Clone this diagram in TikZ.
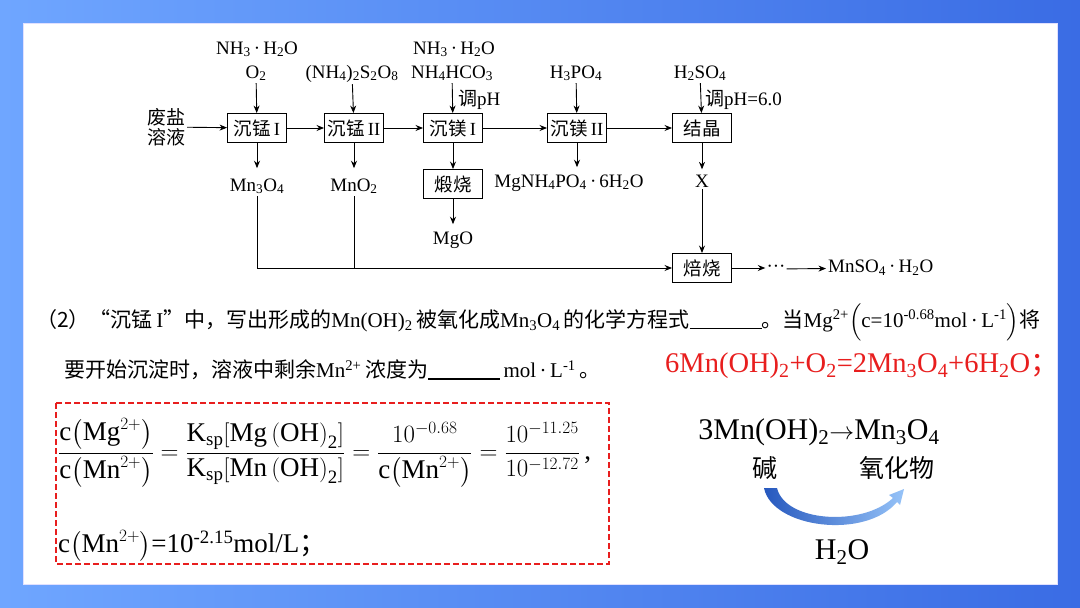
\documentclass[tikz,border=0pt]{standalone}
\usepackage{amsmath}
\usepackage{fontspec}
\setmainfont{Liberation Serif}
\newfontfamily\cjk{Noto Sans CJK SC}
\usetikzlibrary{arrows.meta,positioning}
\definecolor{bgleft}{RGB}{111,166,255}
\definecolor{bgright}{RGB}{58,108,228}
\definecolor{ansred}{RGB}{232,30,30}
\definecolor{arcdark}{RGB}{38,88,190}
\definecolor{arclight}{RGB}{150,195,248}

\begin{document}
\begin{tikzpicture}[x=1pt,y=-1pt,>={Stealth[length=7.5pt,width=6pt]},
  box/.style={draw,line width=0.9pt,minimum width=59pt,minimum height=29pt,inner sep=1pt,font=\fontsize{18.5}{20}\selectfont},
  lbl/.style={inner sep=2pt,font=\fontsize{19}{21}\selectfont},
  flow/.style={->,line width=0.9pt},
  para/.style={anchor=west,inner sep=0pt,font=\fontsize{21}{24}\selectfont},
  big/.style={inner sep=0pt,font=\fontsize{30}{32}\selectfont}]
\useasboundingbox (0,0) rectangle (1080,608);
\shade[left color=bgleft,right color=bgright] (0,0) rectangle (1080,608);
\fill[white] (23,23) rectangle (1057,584);
\draw[blue!12,line width=1pt] (23,23) rectangle (1057,584);

% flow chart
\node[lbl,align=center] (feed) at (166,127) {{\cjk 废盐}\\[-1pt]{\cjk 溶液}};
\node[box] (mn1) at (257,128) {{\cjk 沉锰}\,I};
\node[box] (mn2) at (354,128) {{\cjk 沉锰}\,II};
\node[box] (mg1) at (453,128) {{\cjk 沉镁}\,I};
\node[box] (mg2) at (577,128) {{\cjk 沉镁}\,II};
\node[box] (cry) at (702,128) {{\cjk 结晶}};
\node[box] (calc) at (453,184) {{\cjk 煅烧}};
\node[box] (roast) at (702,268) {{\cjk 焙烧}};

% reagents
\node[lbl,anchor=base] (in1a) at (257,54) {NH\textsubscript{3}\,·\,H\textsubscript{2}O};
\node[lbl,anchor=base] (in1b) at (256,78) {O\textsubscript{2}};
\node[lbl,anchor=base] (in2) at (352,78) {(NH\textsubscript{4})\textsubscript{2}S\textsubscript{2}O\textsubscript{8}};
\node[lbl,anchor=base] (in3a) at (454,54) {NH\textsubscript{3}\,·\,H\textsubscript{2}O};
\node[lbl,anchor=base] (in3b) at (452,78) {NH\textsubscript{4}HCO\textsubscript{3}};
\node[lbl,anchor=base] (in4) at (576,78) {H\textsubscript{3}PO\textsubscript{4}};
\node[lbl,anchor=base] (in5) at (700,78) {H\textsubscript{2}SO\textsubscript{4}};
\node[lbl,anchor=west,inner sep=0pt] (ph1) at (458,100) {{\cjk 调}pH};
\node[lbl,anchor=west,inner sep=0pt] (ph2) at (705,100) {{\cjk 调}pH=6.0};

% products
\node[lbl,anchor=base] (o1) at (257,191) {Mn\textsubscript{3}O\textsubscript{4}};
\node[lbl,anchor=base] (o2) at (354,191) {MnO\textsubscript{2}};
\node[lbl,anchor=base] (o3) at (453,244) {MgO};
\node[lbl,anchor=base] (o4) at (569,187) {MgNH\textsubscript{4}PO\textsubscript{4}\,·\,6H\textsubscript{2}O};
\node[lbl,anchor=base] (xx) at (702,187) {X};
\node[lbl,inner sep=1pt] (dots) at (776,269) {···};
\node[lbl,anchor=west] (fin) at (826,268) {MnSO\textsubscript{4}\,·\,H\textsubscript{2}O};

\draw[flow] (feed) -- (mn1);
\draw[flow] (mn1) -- (mn2);
\draw[flow] (mn2) -- (mg1);
\draw[flow] (mg1) -- (mg2);
\draw[flow] (mg2) -- (cry);
\draw[flow] (in1b) -- (mn1);
\draw[flow] (in2) -- (mn2);
\draw[flow] (in3b) -- (mg1);
\draw[flow] (in4) -- (mg2);
\draw[flow] (in5) -- (cry);
\draw[flow,shorten >=8pt] (mn1) -- (o1);
\draw[flow,shorten >=8pt] (mn2) -- (o2);
\draw[flow] (mg1) -- (calc);
\draw[flow,shorten >=5pt] (calc) -- (o3);
\draw[flow,shorten >=5pt] (mg2.south) -- (mg2.south |- o4.north);
\draw[flow,shorten >=3pt] (cry) -- (xx);
\draw[flow] (xx) -- (roast);
\draw[flow] (o1) |- (roast);
\draw[line width=0.9pt] (o2) -- (o2 |- roast);
\draw[flow] (roast) -- (roast -| dots.west);
\draw[flow] (dots) -- (fin);

% question
\node[para] (q1) at (36,322) {{\cjk （2）“沉锰}\,I{\cjk ”中，写出形成的}Mn(OH)\textsubscript{2}\,{\cjk 被氧化成}Mn\textsubscript{3}O\textsubscript{4}\,{\cjk 的化学方程式}\rule[-2pt]{72pt}{1.6pt}{\cjk 。当}Mg\textsuperscript{2+}$\Big($c=10\textsuperscript{-0.68}mol\,·\,L\textsuperscript{-1}$\Big)${\cjk 将}};
\node[para] (q2) at (64,370) {{\cjk 要开始沉淀时，溶液中剩余}Mn\textsuperscript{2+}\,{\cjk 浓度为}\rule[-2pt]{72pt}{1.6pt}\,mol\,·\,L\textsuperscript{-1}\,{\cjk 。}};
\node[para,text=ansred,font=\fontsize{28.5}{30}\selectfont] (ans) at (665,366) {6Mn(OH)\textsubscript{2}+O\textsubscript{2}=2Mn\textsubscript{3}O\textsubscript{4}+6H\textsubscript{2}O{\cjk ；}};

% worked answer
\draw[ansred,dash pattern=on 6pt off 3pt,line width=1.6pt] (56,403) rectangle (609,564);
\node[para,font=\fontsize{27}{30}\selectfont] (frac) at (58,453) {$\dfrac{\mathrm{c}\bigl(\mathrm{Mg}^{2+}\bigr)}{\mathrm{c}\bigl(\mathrm{Mn}^{2+}\bigr)}=\dfrac{\mathrm{K_{sp}[Mg\left(OH\right)_2]}}{\mathrm{K_{sp}[Mn\left(OH\right)_2]}}=\dfrac{10^{-0.68}}{\mathrm{c}\bigl(\mathrm{Mn}^{2+}\bigr)}=\dfrac{10^{-11.25}}{10^{-12.72}}$\,,};
\node[para,font=\fontsize{27}{30}\selectfont] (res) at (58,546) {$\mathrm{c}\bigl(\mathrm{Mn}^{2+}\bigr)$=10\textsuperscript{-2.15}mol/L{\cjk ；}};

% right side
\node[big] (rx) at (819,432) {3Mn(OH)\textsubscript{2}$\rightarrow$Mn\textsubscript{3}O\textsubscript{4}};
\node[big,font=\fontsize{25}{28}\selectfont] (alk) at (765,468) {\cjk 碱};
\node[big,font=\fontsize{25}{28}\selectfont] (oxi) at (897,468) {\cjk 氧化物};
\node[big] (wat) at (842,552) {H\textsubscript{2}O};
\shade[left color=arcdark,right color=arclight]
  (764,488) .. controls (772,528) and (865,540) .. (897,502)
  -- (900,505) -- (904,489) -- (889,495) -- (893,498)
  .. controls (862,527) and (785,522) .. (777,488) -- cycle;
\end{tikzpicture}
\end{document}
